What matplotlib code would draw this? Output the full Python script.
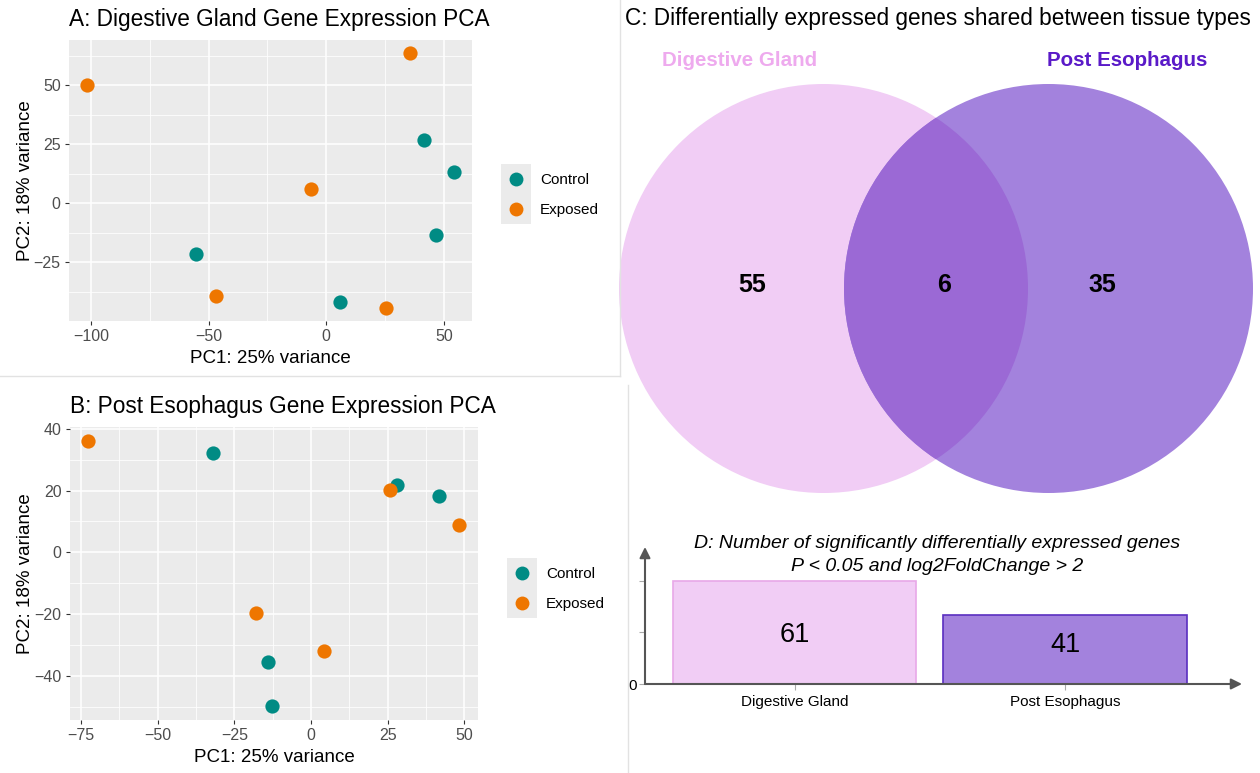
import numpy as np
import matplotlib.pyplot as plt
from matplotlib.patches import Circle, Rectangle
from matplotlib.lines import Line2D
from matplotlib.legend_handler import HandlerLine2D

plt.rcParams['font.family'] = ['Liberation Sans', 'DejaVu Sans']

# A: digestive gland PCA scores
dg_control_pc1 = [41.3, 54.1, 46.7, -55.3, 6.0]
dg_control_pc2 = [26.8, 13.5, -13.5, -21.3, -42.0]
dg_exposed_pc1 = [-101.5, 35.6, -6.6, -46.7, 25.5]
dg_exposed_pc2 = [50.0, 63.8, 6.1, -39.5, -44.5]

# B: post esophagus PCA scores
pe_control_pc1 = [-32.0, 28.0, 41.9, -14.0, -12.6]
pe_control_pc2 = [32.2, 21.9, 18.4, -35.6, -49.9]
pe_exposed_pc1 = [-72.6, 25.7, 48.4, -18.0, 4.2]
pe_exposed_pc2 = [36.2, 20.1, 8.8, -19.5, -31.8]

groups = ['Control', 'Exposed']
group_colors = ['#008b84', '#ee7600']

# C: venn counts (only DG, shared, only PE)
tissues = ['Digestive Gland', 'Post Esophagus']
venn_counts = [55, 6, 35]

# D: totals
deg_totals = [61, 41]

W, H = 1260, 773
fig = plt.figure(figsize=(W / 100, H / 100), dpi=100)


def box(l, t, r, b):
    # pixel box -> figure fraction rect
    return [l / W, 1 - b / H, (r - l) / W, (b - t) / H]


def fig_line(x0, y0, x1, y1):
    fig.add_artist(Line2D([x0 / W, x1 / W], [1 - y0 / H, 1 - y1 / H],
                          transform=fig.transFigure, color='#e2e2e2', lw=1))


class CenteredMarker(HandlerLine2D):
    # drop the legend marker down so it sits level with the label
    def create_artists(self, *args, **kwargs):
        arts = super().create_artists(*args, **kwargs)
        for a in arts:
            a.set_ydata([y - 3.7 for y in a.get_ydata()])
        return arts


def pca_panel(rect, title, ctrl, expo, xmajor, xminor, ymajor, yminor, xlim, ylim, key_xy):
    ax = fig.add_axes(box(*rect))
    ax.set_facecolor('#ebebeb')
    for s in ax.spines.values():
        s.set_visible(False)
    ax.set_xticks(xmajor)
    ax.set_xticks(xminor, minor=True)
    ax.set_yticks(ymajor)
    ax.set_yticks(yminor, minor=True)
    ax.set_xticklabels([str(v).replace('-', '\u2212') for v in xmajor])
    ax.set_yticklabels([str(v).replace('-', '\u2212') for v in ymajor])
    ax.grid(which='major', color='white', lw=1.1)
    ax.grid(which='minor', color='white', lw=0.55)
    ax.set_axisbelow(True)
    ax.tick_params(which='major', length=3, width=0.8, color='#333333',
                   labelcolor='#4d4d4d', labelsize=11.5, pad=3)
    ax.tick_params(which='minor', length=0)
    ax.set_xlim(*xlim)
    ax.set_ylim(*ylim)
    for (xs, ys), c in zip([ctrl, expo], group_colors):
        ax.scatter(xs, ys, s=105, color=c, lw=0, zorder=3)
    ax.set_xlabel('PC1: 25% variance', fontsize=13.5, labelpad=4)
    ax.set_ylabel('PC2: 18% variance', fontsize=13.5, labelpad=0)
    ax.set_title(title, loc='left', fontsize=16.3, pad=10)
    # legend with ggplot-like grey key background
    kx, ky = key_xy
    ax.add_patch(Rectangle((kx / W, 1 - (ky + 60) / H), 30 / W, 60 / H,
                           transform=fig.transFigure, color='#ebebeb', lw=0,
                           clip_on=False, zorder=0))
    handles = [Line2D([], [], marker='o', ls='', color=c, markersize=10, mew=0)
               for c in group_colors]
    ax.legend(handles, groups, loc='upper left', bbox_to_anchor=(kx / W, 1 - ky / H),
              bbox_transform=fig.transFigure, frameon=False, borderpad=0,
              borderaxespad=0, fontsize=11, handlelength=1.96, handleheight=2.645,
              labelspacing=0, handletextpad=0.6,
              handler_map={Line2D: CenteredMarker()})
    return ax


pca_panel((69, 40, 472, 321), 'A: Digestive Gland Gene Expression PCA',
          (dg_control_pc1, dg_control_pc2), (dg_exposed_pc1, dg_exposed_pc2),
          [-100, -50, 0, 50], [-75, -25, 25], [-25, 0, 25, 50],
          [-37.5, -12.5, 12.5, 37.5, 62.5], (-109.3, 61.9), (-49.9, 69.3), (501, 164))

pca_panel((70, 427, 478, 720), 'B: Post Esophagus Gene Expression PCA',
          (pe_control_pc1, pe_control_pc2), (pe_exposed_pc1, pe_exposed_pc2),
          [-75, -50, -25, 0, 25, 50], [-62.5, -37.5, -12.5, 12.5, 37.5],
          [-40, -20, 0, 20, 40], [-50, -30, -10, 10, 30],
          (-78.6, 54.5), (-54.3, 40.6), (507, 558))

# panel borders
fig_line(620, 0, 620, 376)
fig_line(0, 376, 620, 376)
fig_line(628, 385, 628, 773)

# C: venn diagram (axes in pixel units)
axc = fig.add_axes(box(610, 40, 1260, 520))
axc.set_xlim(610, 1260)
axc.set_ylim(520, 40)
axc.axis('off')
r = 204.5
left = Circle((823.5, 288.5), r, color='#f1cdf5', lw=0)
right = Circle((1048.5, 288.5), r, color='#a382dd', lw=0)
axc.add_patch(left)
axc.add_patch(right)
lens = Circle((1048.5, 288.5), r, color='#9b69d5', lw=0)
axc.add_patch(lens)
lens.set_clip_path(left)
for x, n in zip([752, 944, 1102], venn_counts):
    axc.text(x, 285, str(n), ha='center', va='center', fontsize=18, fontweight='bold')
axc.text(740, 61, tissues[0], ha='center', va='center', fontsize=14.8,
         fontweight='bold', color='#eeaaee')
axc.text(1127, 61, tissues[1], ha='center', va='center', fontsize=14.8,
         fontweight='bold', color='#5a1ac8')
fig.text(625 / W, 1 - 18 / H, 'C: Differentially expressed genes shared between tissue types',
         ha='left', va='center', fontsize=16.3)

# D: bar chart of DEG totals
axd = fig.add_axes(box(645, 547, 1242, 684))
axd.set_xlim(-0.553, 1.654)
axd.set_ylim(0, 81.1)
for s in axd.spines.values():
    s.set_visible(False)
axd.bar([0, 1], deg_totals, width=0.9, color=['#f1cdf5', '#a382dd'],
        edgecolor=['#e8a8e8', '#5a2fc0'], lw=1.2, zorder=2)
for i, v in enumerate(deg_totals):
    axd.text(i, 0.3 * v + 11, str(v), ha='center', va='center', fontsize=19.5, zorder=3)
arrow = dict(arrowstyle='-|>', color='#555555', lw=1.5, mutation_scale=16,
             shrinkA=0, shrinkB=0)
axd.annotate('', xy=(1, 0), xytext=(0, 0), xycoords='axes fraction', arrowprops=arrow)
axd.annotate('', xy=(0, 1), xytext=(0, 0), xycoords='axes fraction', arrowprops=arrow)
axd.set_xticks([0, 1])
axd.set_xticklabels(tissues)
axd.set_yticks([0, deg_totals[0] / 2, deg_totals[0]])
axd.set_yticklabels(['0', '', ''])
axd.tick_params(axis='x', length=4, color='#aaaaaa', labelsize=11, pad=4)
axd.tick_params(axis='y', length=4, color='#aaaaaa', labelsize=11, pad=1.5)
fig.text(937 / W, 1 - 555 / H,
         'D: Number of significantly differentially expressed genes\nP < 0.05 and log2FoldChange > 2',
         ha='center', va='center', fontsize=14, style='italic', linespacing=1.5)

fig.savefig('out.png', dpi=100)
